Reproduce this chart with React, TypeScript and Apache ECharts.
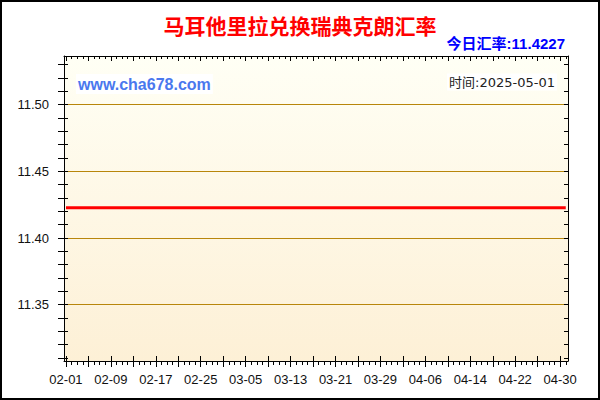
import React, { useEffect, useRef } from 'react';
import * as echarts from 'echarts';

const dates = [
  '02-01','02-02','02-03','02-04','02-05','02-06','02-07','02-08','02-09','02-10',
  '02-11','02-12','02-13','02-14','02-15','02-16','02-17','02-18','02-19','02-20',
  '02-21','02-22','02-23','02-24','02-25','02-26','02-27','02-28',
  '03-01','03-02','03-03','03-04','03-05','03-06','03-07','03-08','03-09','03-10',
  '03-11','03-12','03-13','03-14','03-15','03-16','03-17','03-18','03-19','03-20',
  '03-21','03-22','03-23','03-24','03-25','03-26','03-27','03-28','03-29','03-30','03-31',
  '04-01','04-02','04-03','04-04','04-05','04-06','04-07','04-08','04-09','04-10',
  '04-11','04-12','04-13','04-14','04-15','04-16','04-17','04-18','04-19','04-20',
  '04-21','04-22','04-23','04-24','04-25','04-26','04-27','04-28','04-29','04-30',
  '05-01',
];

const rates = [
  11.4227,11.4227,11.4227,11.4227,11.4227,11.4227,11.4227,11.4227,11.4227,11.4227,
  11.4227,11.4227,11.4227,11.4227,11.4227,11.4227,11.4227,11.4227,11.4227,11.4227,
  11.4227,11.4227,11.4227,11.4227,11.4227,11.4227,11.4227,11.4227,
  11.4227,11.4227,11.4227,11.4227,11.4227,11.4227,11.4227,11.4227,11.4227,11.4227,
  11.4227,11.4227,11.4227,11.4227,11.4227,11.4227,11.4227,11.4227,11.4227,11.4227,
  11.4227,11.4227,11.4227,11.4227,11.4227,11.4227,11.4227,11.4227,11.4227,11.4227,11.4227,
  11.4227,11.4227,11.4227,11.4227,11.4227,11.4227,11.4227,11.4227,11.4227,11.4227,
  11.4227,11.4227,11.4227,11.4227,11.4227,11.4227,11.4227,11.4227,11.4227,11.4227,
  11.4227,11.4227,11.4227,11.4227,11.4227,11.4227,11.4227,11.4227,11.4227,11.4227,
  11.4227,
];

const yLabelValues = [11.35, 11.40, 11.45, 11.50];
const yTickValues = [
  11.31, 11.32, 11.33, 11.34, 11.35, 11.36, 11.37, 11.38, 11.39, 11.40,
  11.41, 11.42, 11.43, 11.44, 11.45, 11.46, 11.47, 11.48, 11.49, 11.50,
  11.51, 11.52, 11.53,
];
const xLabelIndex = [0, 8, 16, 24, 32, 40, 48, 56, 64, 72, 80, 88];
const xMajorIndex = [
  0, 4, 8, 12, 16, 20, 24, 28, 32, 36, 40, 44, 48, 52, 56, 60, 64, 68, 72, 76, 80, 84, 88,
];
const xMinorIndex = [
  0, 1, 2, 3, 4, 5, 6, 7, 8, 9, 10, 11, 12, 13, 14, 15, 16, 17, 18, 19,
  20, 21, 22, 23, 24, 25, 26, 27, 28, 29, 30, 31, 32, 33, 34, 35, 36, 37, 38, 39,
  40, 41, 42, 43, 44, 45, 46, 47, 48, 49, 50, 51, 52, 53, 54, 55, 56, 57, 58, 59,
  60, 61, 62, 63, 64, 65, 66, 67, 68, 69, 70, 71, 72, 73, 74, 75, 76, 77, 78, 79,
  80, 81, 82, 83, 84, 85, 86, 87, 88, 89,
];

const titleText = '马耳他里拉兑换瑞典克朗汇率';
const todayText = '今日汇率:11.4227';
const siteText = 'www.cha678.com';
const timeText = '时间:2025-05-01';

const Y_MIN = 11.3078;
const Y_MAX = 11.5365;
const X_MIN = -0.35;
const X_MAX = 89.4;

export default function App() {
  const ref = useRef<HTMLDivElement>(null);

  useEffect(() => {
    if (!ref.current) return;
    const chart = echarts.init(ref.current, undefined, { renderer: 'svg' });

    const tickLine = { color: '#000', width: 1 };
    const baseX: any = {
      type: 'value',
      min: X_MIN,
      max: X_MAX,
      splitLine: { show: false },
      axisLabel: { show: false },
      axisLine: { show: false, onZero: false },
      axisTick: { show: false },
    };
    const baseY: any = {
      type: 'value',
      min: Y_MIN,
      max: Y_MAX,
      splitLine: { show: false },
      axisLabel: { show: false },
      axisLine: { show: false, onZero: false },
      axisTick: { show: false },
    };

    chart.setOption({
      animation: false,
      backgroundColor: '#ffffff',
      grid: {
        left: 64,
        right: 32,
        top: 56,
        bottom: 39,
        show: true,
        borderWidth: 0,
        backgroundColor: {
          type: 'linear',
          x: 0,
          y: 0,
          x2: 0,
          y2: 1,
          colorStops: [
            { offset: 0, color: '#FFFFF5' },
            { offset: 1, color: '#FDF0D6' },
          ],
        },
      },
      xAxis: [
        {
          ...baseX,
          position: 'bottom',
          axisLine: { show: true, onZero: false, lineStyle: { color: '#000', width: 1 } },
          axisLabel: {
            show: true,
            customValues: xLabelIndex,
            formatter: (v: number) => dates[Math.round(v)] ?? '',
            color: '#111',
            fontSize: 13,
            fontFamily: '"Liberation Sans", Arial, sans-serif',
            margin: 12,
          },
          axisTick: { show: true, customValues: xMinorIndex, length: 4, lineStyle: tickLine },
        },
        {
          ...baseX,
          position: 'bottom',
          axisTick: { show: true, customValues: xMajorIndex, length: 6, lineStyle: tickLine },
        },
        {
          ...baseX,
          position: 'bottom',
          axisTick: { show: true, inside: true, customValues: xMajorIndex, length: 5, lineStyle: tickLine },
        },
        {
          ...baseX,
          position: 'top',
          axisLine: { show: true, onZero: false, lineStyle: { color: '#000', width: 1 } },
          axisTick: { show: true, inside: true, customValues: xMinorIndex, length: 3, lineStyle: tickLine },
        },
        {
          ...baseX,
          position: 'top',
          axisTick: { show: true, inside: true, customValues: xMajorIndex, length: 5, lineStyle: tickLine },
        },
      ],
      yAxis: [
        {
          ...baseY,
          position: 'left',
          splitNumber: 5,
          axisLine: { show: true, onZero: false, lineStyle: { color: '#000', width: 1 } },
          axisLabel: {
            show: true,
            customValues: yLabelValues,
            formatter: (v: number) => v.toFixed(2),
            color: '#111',
            fontSize: 13,
            fontFamily: '"Liberation Sans", Arial, sans-serif',
            margin: 15,
          },
          splitLine: {
            show: true,
            showMinLine: false,
            showMaxLine: false,
            lineStyle: { color: '#B8860B', width: 1 },
          },
        },
        {
          ...baseY,
          position: 'left',
          axisTick: { show: true, customValues: yTickValues, length: 6, lineStyle: tickLine },
        },
        {
          ...baseY,
          position: 'left',
          axisTick: { show: true, inside: true, customValues: yTickValues, length: 4, lineStyle: tickLine },
        },
        {
          ...baseY,
          position: 'right',
          axisLine: { show: true, onZero: false, lineStyle: { color: '#000', width: 1 } },
          axisTick: { show: true, inside: true, customValues: yTickValues, length: 4, lineStyle: tickLine },
        },
      ],
      series: [
        {
          type: 'line',
          xAxisIndex: 0,
          yAxisIndex: 0,
          data: dates.map((_, i) => [i, rates[i]]),
          symbol: 'none',
          lineStyle: { color: '#FF0000', width: 3 },
          z: 10,
        },
      ],
      graphic: [
        {
          type: 'rect',
          shape: { x: 1, y: 1, width: 598, height: 398 },
          style: { fill: 'none', stroke: '#000', lineWidth: 2 },
          z: 100,
        },
        {
          type: 'text',
          x: 300,
          y: 25,
          style: {
            text: titleText,
            fill: '#FF0000',
            fontSize: 21,
            fontWeight: 'bold',
            fontFamily: '"Noto Sans CJK SC", sans-serif',
            align: 'center',
            verticalAlign: 'middle',
            textAlign: 'center',
            textVerticalAlign: 'middle',
          },
        },
        {
          type: 'text',
          x: 565,
          y: 43,
          style: {
            text: todayText,
            fill: '#0000FF',
            fontSize: 15,
            fontWeight: 'bold',
            fontFamily: '"Liberation Sans", "Noto Sans CJK SC", sans-serif',
            align: 'right',
            verticalAlign: 'middle',
            textAlign: 'right',
            textVerticalAlign: 'middle',
          },
        },
        {
          type: 'text',
          x: 76,
          y: 84,
          z: 20,
          style: {
            text: siteText,
            fill: '#4A78EE',
            fontSize: 16,
            fontWeight: 'bold',
            fontFamily: '"Liberation Sans", Arial, sans-serif',
            align: 'left',
            verticalAlign: 'middle',
            textAlign: 'left',
            textVerticalAlign: 'middle',
            backgroundColor: '#FFFFFF',
            padding: [2, 2],
          },
        },
        {
          type: 'text',
          x: 557,
          y: 82,
          z: 20,
          style: {
            text: timeText,
            fill: '#222222',
            fontSize: 13,
            fontFamily: '"DejaVu Sans", "Noto Sans CJK SC", sans-serif',
            align: 'right',
            verticalAlign: 'middle',
            textAlign: 'right',
            textVerticalAlign: 'middle',
            backgroundColor: '#FFFFFF',
            padding: [2, 2],
          },
        },
      ],
    });

    return () => chart.dispose();
  }, []);

  return (
    <div
      ref={ref}
      style={{ position: 'fixed', left: 0, top: 0, width: 600, height: 400, background: '#fff' }}
    />
  );
}
